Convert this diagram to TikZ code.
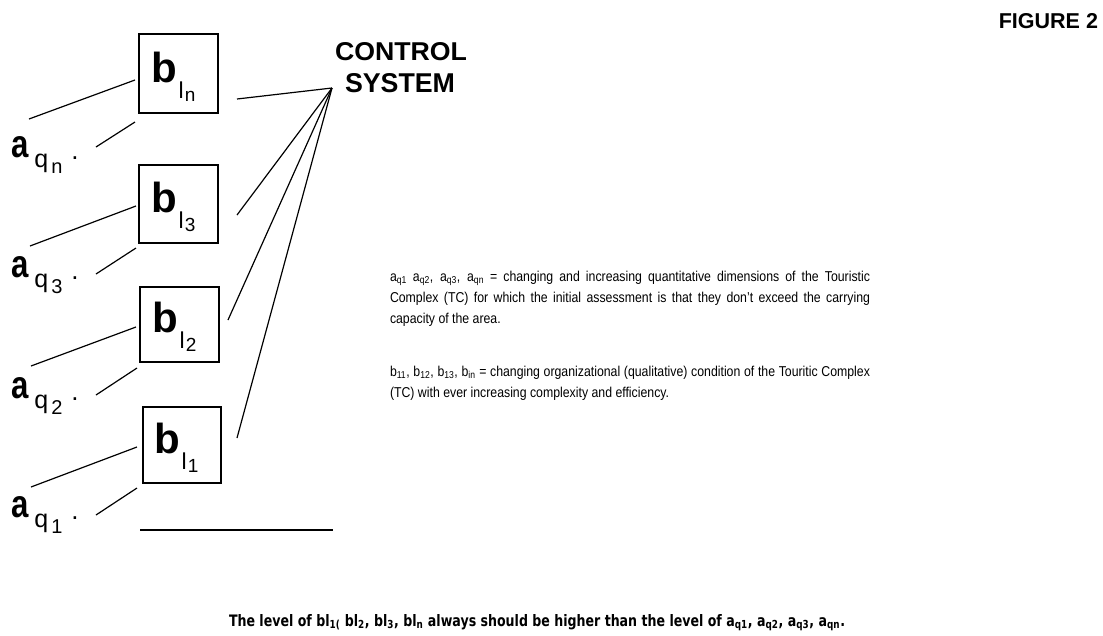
\documentclass[tikz,border=0pt]{standalone}
\usepackage{fontspec}
\usepackage{graphicx}
\setmainfont{Liberation Sans}
\newfontfamily\narrowfont[FakeStretch=0.86]{Liberation Sans}
\newfontfamily\dvsans{DejaVu Sans}
\newcommand\bsub[1]{\fontsize{42}{42}\selectfont\bfseries b\kern2pt\raisebox{-16pt}{\fontsize{23}{23}\selectfont\mdseries l\kern1pt\raisebox{-3pt}{\fontsize{19}{19}\selectfont #1}}}
\newcommand\asub[1]{\scalebox{0.8}[1]{\fontsize{39}{39}\selectfont\bfseries a}\kern5pt\raisebox{-10pt}{\fontsize{25}{25}\selectfont q}\kern3pt\raisebox{-16pt}{\fontsize{20}{20}\selectfont #1}\kern9pt\raisebox{-2.5pt}{\fontsize{26}{26}\selectfont .}}
\begin{document}
\begin{tikzpicture}[x=1pt,y=-1pt,
  every node/.style={inner sep=0pt,outer sep=0pt},
  bbox/.style={draw,line width=1.4pt,anchor=north west},
  lnk/.style={line width=1.2pt},
  para/.style={anchor=base west,font=\narrowfont\fontsize{14.3}{14.3}\selectfont}]
\useasboundingbox (0,0) rectangle (1103,635);

% boxes
\node[bbox,minimum width=79pt,minimum height=79pt] (bn) at (139,34) {};
\node[bbox,minimum width=79pt,minimum height=78pt] (b3) at (139,165) {};
\node[bbox,minimum width=79pt,minimum height=75pt] (b2) at (140,287) {};
\node[bbox,minimum width=78pt,minimum height=76pt] (b1) at (143,407) {};

\node[anchor=base west] (lbn) at ([shift={(12,48)}]bn.north west) {\bsub{n}};
\node[anchor=base west] (lb3) at ([shift={(12,47)}]b3.north west) {\bsub{3}};
\node[anchor=base west] (lb2) at ([shift={(12,45)}]b2.north west) {\bsub{2}};
\node[anchor=base west] (lb1) at ([shift={(11,46)}]b1.north west) {\bsub{1}};

% a labels
\node[anchor=base west] (an) at (12,157) {\asub{n}};
\node[anchor=base west] (a3) at (12,277) {\asub{3}};
\node[anchor=base west] (a2) at (12,398) {\asub{2}};
\node[anchor=base west] (a1) at (12,517) {\asub{1}};

% line end points
\coordinate (anu1) at (29,119);  \coordinate (anu2) at (135,80);
\coordinate (anl1) at (96,147);  \coordinate (anl2) at (135,122);
\coordinate (a3u1) at (30,246);  \coordinate (a3u2) at (136,206);
\coordinate (a3l1) at (96,274);  \coordinate (a3l2) at (136,248);
\coordinate (a2u1) at (31,366);  \coordinate (a2u2) at (136,327);
\coordinate (a2l1) at (96,395);  \coordinate (a2l2) at (137,368);
\coordinate (a1u1) at (31,487);  \coordinate (a1u2) at (137,447);
\coordinate (a1l1) at (96,515);  \coordinate (a1l2) at (137,488);

\draw[lnk] (anu1) -- (anu2); \draw[lnk] (anl1) -- (anl2);
\draw[lnk] (a3u1) -- (a3u2); \draw[lnk] (a3l1) -- (a3l2);
\draw[lnk] (a2u1) -- (a2u2); \draw[lnk] (a2l1) -- (a2l2);
\draw[lnk] (a1u1) -- (a1u2); \draw[lnk] (a1l1) -- (a1l2);

% control system
\node[anchor=base west] (ctl) at (335,60) {\resizebox{132pt}{18pt}{\bfseries CONTROL}};
\node[anchor=base west] (sys) at (345,92) {\resizebox{110pt}{19pt}{\bfseries SYSTEM}};
\coordinate (apex) at (332,88);
\coordinate (cn) at (237,99);
\coordinate (c3) at (237,215);
\coordinate (c2) at (228,320);
\coordinate (c1) at (237,438);
\draw[lnk] (cn) -- (apex);
\draw[lnk] (c3) -- (apex);
\draw[lnk] (c2) -- (apex);
\draw[lnk] (c1) -- (apex);

% base line
\coordinate (base1) at (140,530);
\coordinate (base2) at (333,530);
\draw[line width=1.4pt] (base1) -- (base2);

% figure title
\node[anchor=base east] (fig) at (1098,28) {\fontsize{21.5}{21.5}\selectfont\bfseries FIGURE 2};

% legend
\node[para] (p1) at (390,281) {\makebox[480pt][s]{a\textsubscript{q1} a\textsubscript{q2}, a\textsubscript{q3}, a\textsubscript{qn} = changing and increasing quantitative dimensions of the Touristic}};
\node[para] (p2) at (390,302) {\makebox[480pt][s]{Complex (TC) for which the initial assessment is that they don’t exceed the carrying}};
\node[para] (p3) at (390,323) {capacity of the area.};
\node[para] (p4) at (390,376) {\makebox[480pt][s]{b\textsubscript{11}, b\textsubscript{12}, b\textsubscript{13}, b\textsubscript{in} = changing organizational (qualitative) condition of the Touritic Complex}};
\node[para] (p5) at (390,397) {(TC) with ever increasing complexity and efficiency.};

% bottom sentence
\node[anchor=base west] (foot) at (229,626) {\resizebox{616pt}{12pt}{\dvsans\bfseries The level of bl\textsubscript{1(} bl\textsubscript{2}, bl\textsubscript{3}, bl\textsubscript{n} always should be higher than the level of a\textsubscript{q1}, a\textsubscript{q2}, a\textsubscript{q3}, a\textsubscript{qn}.}};
\end{tikzpicture}
\end{document}
